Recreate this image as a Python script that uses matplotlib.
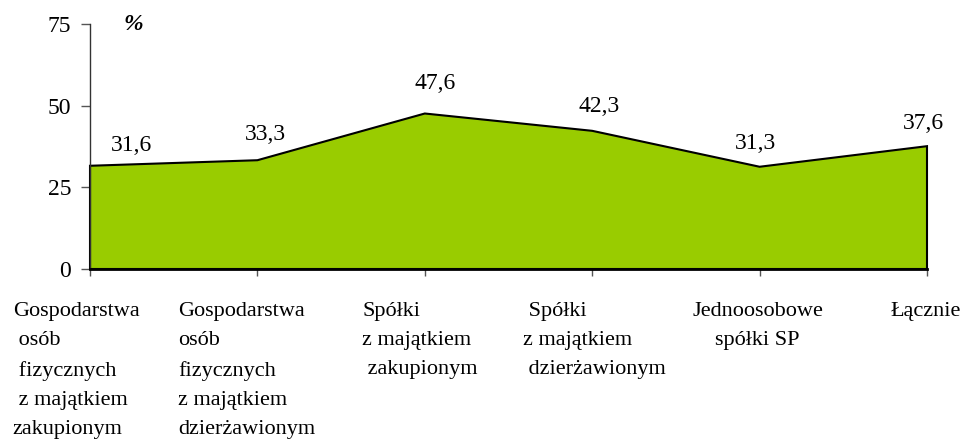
import numpy as np
import matplotlib
matplotlib.use('Agg')
import matplotlib.pyplot as plt
from matplotlib import transforms

plt.rcParams['font.family'] = ['Liberation Serif', 'DejaVu Serif']

# udział (%) w poszczególnych grupach
kategorie = ['Gospodarstwa\n osób\n fizycznych\n z majątkiem\nzakupionym',
             'Gospodarstwa\nosób\nfizycznych\nz majątkiem\ndzierżawionym',
             'Spółki\nz majątkiem\n zakupionym',
             ' Spółki\nz majątkiem\n dzierżawionym',
             'Jednoosobowe\nspółki SP',
             'Łącznie']
wartosci = [31.6, 33.3, 47.6, 42.3, 31.3, 37.6]
y_ticks = [0, 25, 50, 75]

# przesunięcia etykiet (px)
dx_wart = [42, 8, 10, 7, -4, -4]
dy_wart = [-3, 3, 7, 1, 0, 0]
dx_kat = [-14, -11, -5, 2, -2, -1]
align_kat = ['left', 'left', 'left', 'left', 'center', 'left']

fig = plt.figure(figsize=(9.63, 4.4), dpi=100)
ax = fig.add_axes([90/963, 171/440, 837/963, 245/440])

x = np.arange(len(wartosci))
px = np.r_[x[0], x, x[-1]]
py = np.r_[0, wartosci, 0]
ax.fill(px, py, facecolor='#99CC00', edgecolor='black', linewidth=1.5,
        clip_on=False, zorder=2)

ax.set_xlim(x[0], x[-1])
ax.set_ylim(0, 75)
ax.set_yticks(y_ticks)
ax.set_xticks(x)
ax.set_xticklabels([])

for s in ['top', 'right']:
    ax.spines[s].set_visible(False)
ax.spines['left'].set_color('#333333')
ax.spines['left'].set_linewidth(1.0)
ax.spines['bottom'].set_color('black')
ax.spines['bottom'].set_linewidth(2.0)

ax.tick_params(axis='y', direction='out', length=6.5, width=1.0, color='#555555',
               pad=7, labelsize=17)
ax.tick_params(axis='x', direction='out', length=5, width=1.0, color='#555555')

for i, v in enumerate(wartosci):
    ax.annotate(f'{v:.1f}'.replace('.', ','), (x[i], v),
                xytext=(dx_wart[i]*0.72, (9 + dy_wart[i])*0.72 + 2.5),
                textcoords='offset points',
                ha='center', va='bottom', fontsize=17)

trans = transforms.blended_transform_factory(ax.transData, ax.transAxes)
for i, k in enumerate(kategorie):
    off = transforms.ScaledTranslation(dx_kat[i]/100, -33/100, fig.dpi_scale_trans)
    ax.text(x[i], 0, k, transform=trans + off, ha='center', va='top',
            multialignment=align_kat[i], fontsize=16, linespacing=1.72)

ax.text(0.052, 1.0, '%', transform=ax.transAxes, fontsize=17, fontweight='bold',
        fontstyle='italic', ha='center', va='center')

fig.savefig('out.png', dpi=100)
